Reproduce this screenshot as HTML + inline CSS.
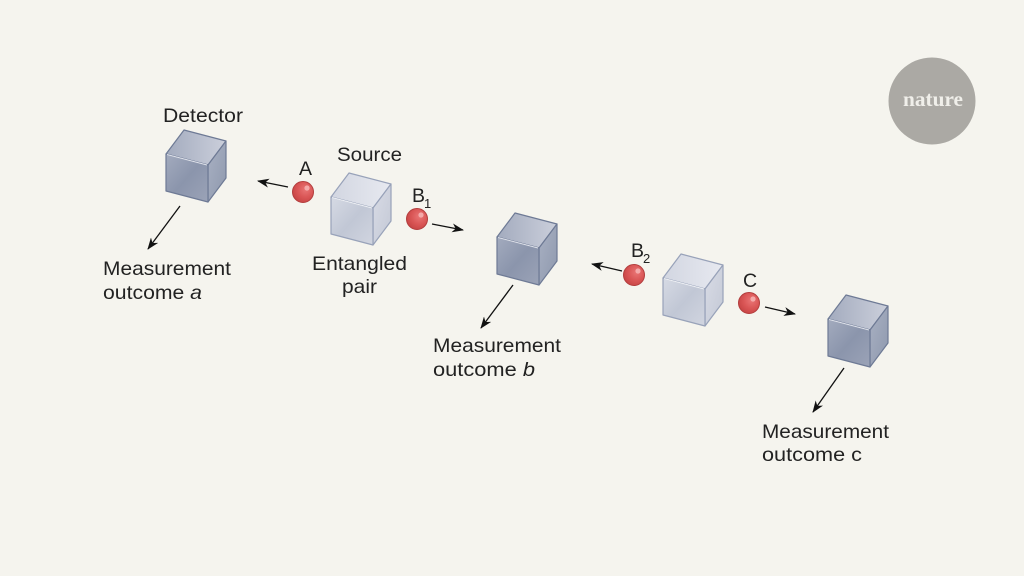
<!DOCTYPE html>
<html><head><meta charset="utf-8"><style>
html,body{margin:0;padding:0;background:#f5f4ee;}
svg{display:block;}
text{font-family:"Liberation Sans",sans-serif;fill:#222;}
</style></head><body>
<svg width="1024" height="576" viewBox="0 0 1024 576" xmlns="http://www.w3.org/2000/svg">
<defs>
<linearGradient id="dTop" x1="0" y1="0.5" x2="1" y2="0.5"><stop offset="0" stop-color="#a3abbe"/><stop offset="1" stop-color="#cbcfdb"/></linearGradient>
<linearGradient id="dFront" x1="0" y1="0" x2="1" y2="1"><stop offset="0" stop-color="#a3abbe"/><stop offset="0.5" stop-color="#8b95ac"/><stop offset="1" stop-color="#9ba3b7"/></linearGradient>
<linearGradient id="dRight" x1="0" y1="0" x2="1" y2="1"><stop offset="0" stop-color="#a9b1c3"/><stop offset="1" stop-color="#8e98ad"/></linearGradient>
<linearGradient id="sTop" x1="0" y1="0.5" x2="1" y2="0.5"><stop offset="0" stop-color="#d2d6e1"/><stop offset="1" stop-color="#e7e9f0"/></linearGradient>
<linearGradient id="sFront" x1="0" y1="0" x2="1" y2="1"><stop offset="0" stop-color="#d6dae4"/><stop offset="0.5" stop-color="#c1c7d5"/><stop offset="1" stop-color="#d1d5e0"/></linearGradient>
<linearGradient id="sRight" x1="0" y1="0" x2="1" y2="1"><stop offset="0" stop-color="#d9dce6"/><stop offset="1" stop-color="#c3c8d5"/></linearGradient>
<radialGradient id="ball" cx="0.62" cy="0.38" r="0.65"><stop offset="0" stop-color="#e97575"/><stop offset="0.6" stop-color="#d95555"/><stop offset="1" stop-color="#c84646"/></radialGradient>
<marker id="ah" viewBox="0 0 12 9" refX="11" refY="4.5" markerWidth="12" markerHeight="9" markerUnits="userSpaceOnUse" orient="auto">
<path d="M0,0 L12,4.5 L0,9 L3.5,4.5 z" fill="#111"/>
</marker>
</defs>
<rect width="1024" height="576" fill="#f5f4ee"/>

<!-- nature logo -->
<circle cx="932" cy="101" r="43.5" fill="#aba9a4"/>
<text x="903" y="106" font-size="21" textLength="60" lengthAdjust="spacingAndGlyphs" style="font-family:'Liberation Serif',serif;fill:#f0efea;font-weight:bold">nature</text>

<!-- Cube 1 detector -->
<g transform="translate(166,154)" stroke="#6e7a95" stroke-width="1.2" stroke-linejoin="round">
<polygon points="0,0 18,-24 60,-13 42,11" fill="url(#dTop)"/>
<polygon points="42,11 60,-13 60,24 42,48" fill="url(#dRight)"/>
<polygon points="0,0 42,11 42,48 0,37" fill="url(#dFront)"/>
<line x1="1" y1="0.5" x2="41" y2="11" stroke="#e0e3eb" stroke-width="1"/>
</g>
<!-- Cube 2 source -->
<g transform="translate(331,197)" stroke="#98a2b9" stroke-width="1.2" stroke-linejoin="round">
<polygon points="0,0 18,-24 60,-13 42,11" fill="url(#sTop)"/>
<polygon points="42,11 60,-13 60,24 42,48" fill="url(#sRight)"/>
<polygon points="0,0 42,11 42,48 0,37" fill="url(#sFront)"/>
<line x1="1" y1="0.5" x2="41" y2="11" stroke="#eef0f4" stroke-width="1"/>
</g>
<!-- Cube 3 detector -->
<g transform="translate(497,237)" stroke="#6e7a95" stroke-width="1.2" stroke-linejoin="round">
<polygon points="0,0 18,-24 60,-13 42,11" fill="url(#dTop)"/>
<polygon points="42,11 60,-13 60,24 42,48" fill="url(#dRight)"/>
<polygon points="0,0 42,11 42,48 0,37" fill="url(#dFront)"/>
<line x1="1" y1="0.5" x2="41" y2="11" stroke="#e0e3eb" stroke-width="1"/>
</g>
<!-- Cube 4 source -->
<g transform="translate(663,278)" stroke="#98a2b9" stroke-width="1.2" stroke-linejoin="round">
<polygon points="0,0 18,-24 60,-13 42,11" fill="url(#sTop)"/>
<polygon points="42,11 60,-13 60,24 42,48" fill="url(#sRight)"/>
<polygon points="0,0 42,11 42,48 0,37" fill="url(#sFront)"/>
<line x1="1" y1="0.5" x2="41" y2="11" stroke="#eef0f4" stroke-width="1"/>
</g>
<!-- Cube 5 detector -->
<g transform="translate(828,319)" stroke="#6e7a95" stroke-width="1.2" stroke-linejoin="round">
<polygon points="0,0 18,-24 60,-13 42,11" fill="url(#dTop)"/>
<polygon points="42,11 60,-13 60,24 42,48" fill="url(#dRight)"/>
<polygon points="0,0 42,11 42,48 0,37" fill="url(#dFront)"/>
<line x1="1" y1="0.5" x2="41" y2="11" stroke="#e0e3eb" stroke-width="1"/>
</g>

<!-- Balls -->
<g stroke="#b23d3d" stroke-width="1">
<circle cx="303" cy="192" r="10.5" fill="url(#ball)"/>
<circle cx="417" cy="219" r="10.5" fill="url(#ball)"/>
<circle cx="634" cy="275" r="10.5" fill="url(#ball)"/>
<circle cx="749" cy="303" r="10.5" fill="url(#ball)"/>
</g>
<g fill="#f4aaaa">
<circle cx="307" cy="188" r="2.6"/>
<circle cx="421" cy="215" r="2.6"/>
<circle cx="638" cy="271" r="2.6"/>
<circle cx="753" cy="299" r="2.6"/>
</g>

<!-- Arrows -->
<g stroke="#111" stroke-width="1.3" fill="none" marker-end="url(#ah)">
<line x1="288" y1="187" x2="258" y2="181"/>
<line x1="432" y1="224" x2="463" y2="230"/>
<line x1="622" y1="271" x2="592" y2="264"/>
<line x1="765" y1="307" x2="795" y2="314"/>
<line x1="180" y1="206" x2="148" y2="249"/>
<line x1="513" y1="285" x2="481" y2="328"/>
<line x1="844" y1="368" x2="813" y2="412"/>
</g>

<!-- Labels -->
<g font-size="19.5">
<text x="163" y="122" textLength="80" lengthAdjust="spacingAndGlyphs">Detector</text>
<text x="337" y="161" textLength="65" lengthAdjust="spacingAndGlyphs">Source</text>
<text x="299" y="175">A</text>
<text x="412" y="202">B</text><text x="424" y="208" font-size="13">1</text>
<text x="631" y="257">B</text><text x="643" y="263" font-size="13">2</text>
<text x="743" y="287">C</text>
<text x="312" y="270" textLength="95" lengthAdjust="spacingAndGlyphs">Entangled</text>
<text x="342" y="293" textLength="35" lengthAdjust="spacingAndGlyphs">pair</text>

<text x="103" y="275" textLength="128" lengthAdjust="spacingAndGlyphs">Measurement</text>
<text x="103" y="299" textLength="99" lengthAdjust="spacingAndGlyphs">outcome <tspan font-style="italic">a</tspan></text>

<text x="433" y="352" textLength="128" lengthAdjust="spacingAndGlyphs">Measurement</text>
<text x="433" y="376" textLength="102" lengthAdjust="spacingAndGlyphs">outcome <tspan font-style="italic">b</tspan></text>

<text x="762" y="438" textLength="127" lengthAdjust="spacingAndGlyphs">Measurement</text>
<text x="762" y="461" textLength="100" lengthAdjust="spacingAndGlyphs">outcome c</text>
</g>
</svg>
</body></html>
